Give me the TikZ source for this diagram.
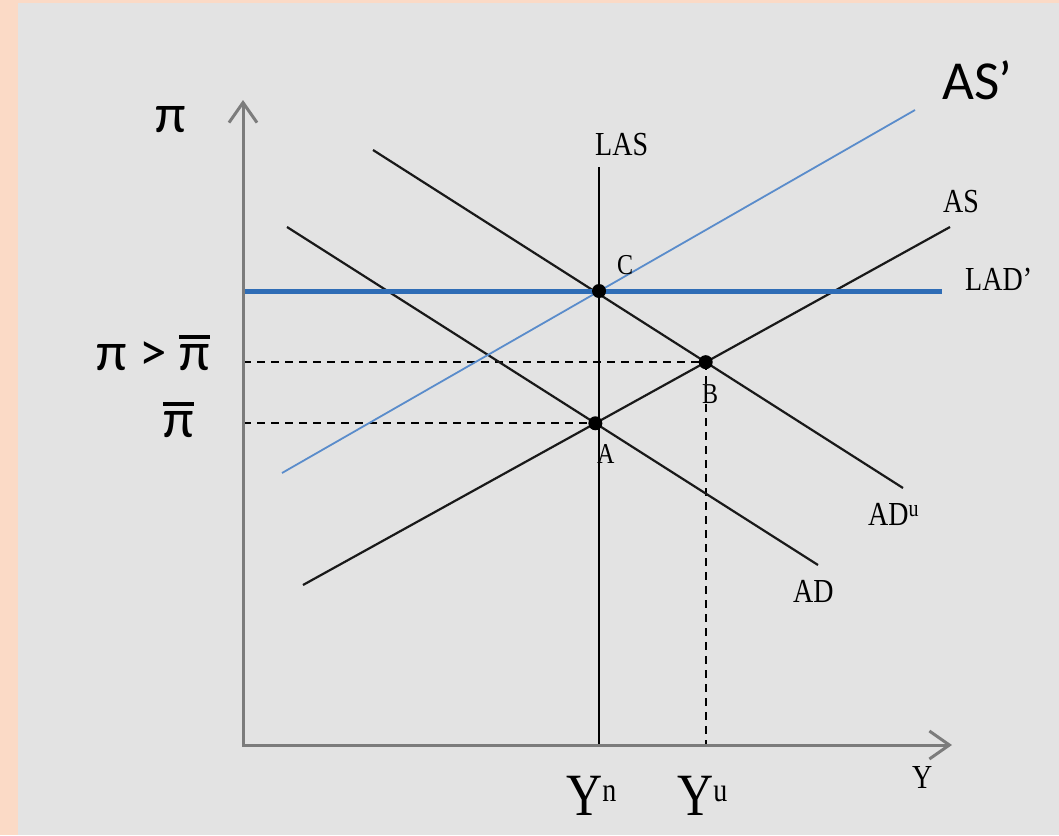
\documentclass[tikz,border=0pt]{standalone}
\usepackage{fontspec}
\usepackage{graphicx}
\setmainfont{Liberation Serif}
\newfontfamily\carl{Carlito}
\usetikzlibrary{arrows.meta}
\definecolor{peach}{HTML}{FBDAC6}
\definecolor{panel}{HTML}{E3E3E3}
\definecolor{axisgray}{HTML}{7C7C7C}
\definecolor{ladblue}{HTML}{2F6DB6}
\definecolor{asblue}{HTML}{5A8CCB}
\newcommand\vst[1]{\scalebox{1}[1.2]{#1}}
\newcommand\pibar{\setbox0\hbox{π}\vbox{\hrule height 3.5pt width \wd0\kern 5pt\box0}}
\begin{document}
\begin{tikzpicture}[x=1pt,y=-1pt,
  curve/.style={line width=2.2pt, black!90},
  guide/.style={line width=2pt, black, dash pattern=on 8pt off 6pt},
  dot/.style={circle, fill=black, inner sep=0pt, minimum size=14pt},
  lab/.style={anchor=base west, inner sep=0pt, font=\fontsize{28}{30}\selectfont},
  ptlab/.style={anchor=base west, inner sep=0pt, font=\fontsize{24}{26}\selectfont},
  sanslab/.style={inner sep=0pt, font=\carl\fontsize{55}{60}\selectfont},
  bigY/.style={anchor=base west, inner sep=0pt, font=\fontsize{50}{50}\selectfont},
  axis/.style={line width=3pt, axisgray, line join=miter,
    {Straight Barb[length=20pt,width=28pt]}-{Straight Barb[length=20pt,width=28pt]}}]
\fill[peach] (0,0) rectangle (1059,835);
\fill[panel] (18,3) rectangle (1059,835);
\useasboundingbox (0,0) rectangle (1059,835);
% coordinates
\coordinate (ytop) at (243,100);
\coordinate (O) at (243,745);
\coordinate (xend) at (952,745);
\coordinate (las1) at (599,167);
\coordinate (las0) at (599,745);
\coordinate (lad0) at (243,291);
\coordinate (lad1) at (942,291);
\coordinate (asp0) at (282,473);
\coordinate (asp1) at (915,110);
\coordinate (as0) at (303,585);
\coordinate (as1) at (950,227);
\coordinate (ad0) at (287,227);
\coordinate (ad1) at (818,565);
\coordinate (adu0) at (373,150);
\coordinate (adu1) at (903,488);
\coordinate (A) at (intersection of as0--as1 and ad0--ad1);
\coordinate (B) at (intersection of as0--as1 and adu0--adu1);
\coordinate (C) at (intersection of las0--las1 and lad0--lad1);
% dashed guides
\draw[guide] (O |- B) -- (B);
\draw[guide] (O |- A) -- (A);
\draw[guide] (B) -- (B |- O);
% curves
\draw[curve] (ad0) -- (ad1);
\draw[curve] (adu0) -- (adu1);
\draw[curve] (as0) -- (as1);
\draw[line width=2.5pt, black] (las1) -- (las0);
\draw[line width=5pt, ladblue] (lad0) -- (lad1);
\draw[line width=1.8pt, asblue] (asp0) -- (asp1);
% axes
\draw[axis] (ytop) -- (O) -- (xend);
% dots
\node[dot] (dA) at (A) {};
\node[dot] (dB) at (B) {};
\node[dot] (dC) at (C) {};
% labels
\node[lab] (laslab) at (595,155) {\vst{LAS}};
\node[lab] (aslab) at (943,212) {\vst{AS}};
\node[lab] (ladlab) at (965,290) {\vst{LAD’}};
\node[lab] (adlab) at (793,602) {\vst{AD}};
\node[lab] (adulab) at (868,525) {\vst{AD\raisebox{7.5pt}{\fontsize{20}{20}\selectfont u}}};
\node[lab] (ylab) at (912,788) {\vst{Y}};
\node[ptlab] (alab) at (597,463) {\vst{A}};
\node[ptlab] (blab) at (702,403) {\vst{B}};
\node[ptlab] (clab) at (617,274) {\vst{C}};
\node[bigY] (ynlab) at (566,815) {\vst{Y\raisebox{11pt}{\fontsize{28}{28}\selectfont n}}};
\node[bigY] (yulab) at (677,815) {\vst{Y\raisebox{11pt}{\fontsize{28}{28}\selectfont u}}};
\node[sanslab, anchor=base west] (pilab) at (155,132) {π};
\node[sanslab, anchor=base east] (pigt) at (210,370) {π > \pibar};
\node[sanslab, anchor=base east] (pib) at (194,437) {\pibar};
\node[sanslab, anchor=base west] (asplab) at (942,99) {AS’};
\end{tikzpicture}
\end{document}
